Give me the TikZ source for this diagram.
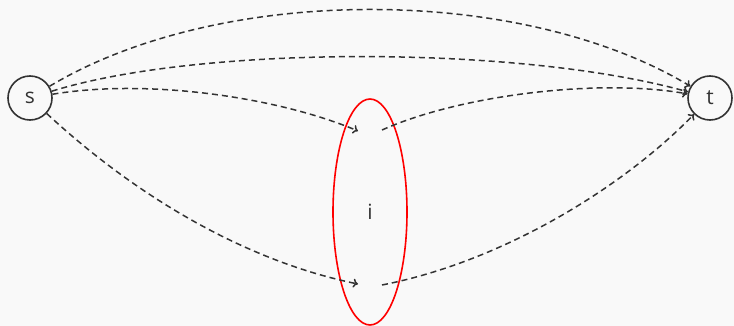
\documentclass[tikz,border=0pt]{standalone}
\usepackage{fontspec}
\setmainfont{Open Sans}
\usetikzlibrary{arrows.meta}
\definecolor{ink}{HTML}{333333}
\definecolor{bg}{HTML}{F9F9F9}
\begin{document}
\begin{tikzpicture}[x=1pt,y=-1pt,
  vert/.style={circle,draw=ink,line width=1.6pt,minimum size=44pt,inner sep=0pt,text=ink,font=\fontsize{21}{25}\selectfont},
  flow/.style={draw=ink,line width=1.5pt,dash pattern=on 6pt off 4pt,-{To[length=5pt,width=9pt]}}]
\fill[bg] (0,0) rectangle (734,326);
\useasboundingbox (0,0) rectangle (734,326);
\node[vert] (s) at (30,98) {s};
\node[vert] (t) at (710,98) {t};
\draw[red,line width=1.6pt] (370,212) ellipse [x radius=37pt,y radius=113pt];
\node[text=ink,font=\fontsize{21}{25}\selectfont] (i) at (370,212) {i};
\coordinate (a1) at (358,131);
\coordinate (b1) at (382,130);
\coordinate (a2) at (358,284);
\coordinate (b2) at (382,285);
\draw[flow] (s) .. controls (220,-16) and (520,-16) .. (t);
\draw[flow] (s) .. controls (200,45) and (520,45) .. (t);
\draw[flow] (s) .. controls (150,78) and (280,98) .. (a1);
\draw[flow] (b1) .. controls (460,95) and (600,78) .. (t);
\draw[flow] (s) .. controls (140,200) and (250,262) .. (a2);
\draw[flow] (b2) .. controls (500,262) and (620,190) .. (t);
\end{tikzpicture}
\end{document}
